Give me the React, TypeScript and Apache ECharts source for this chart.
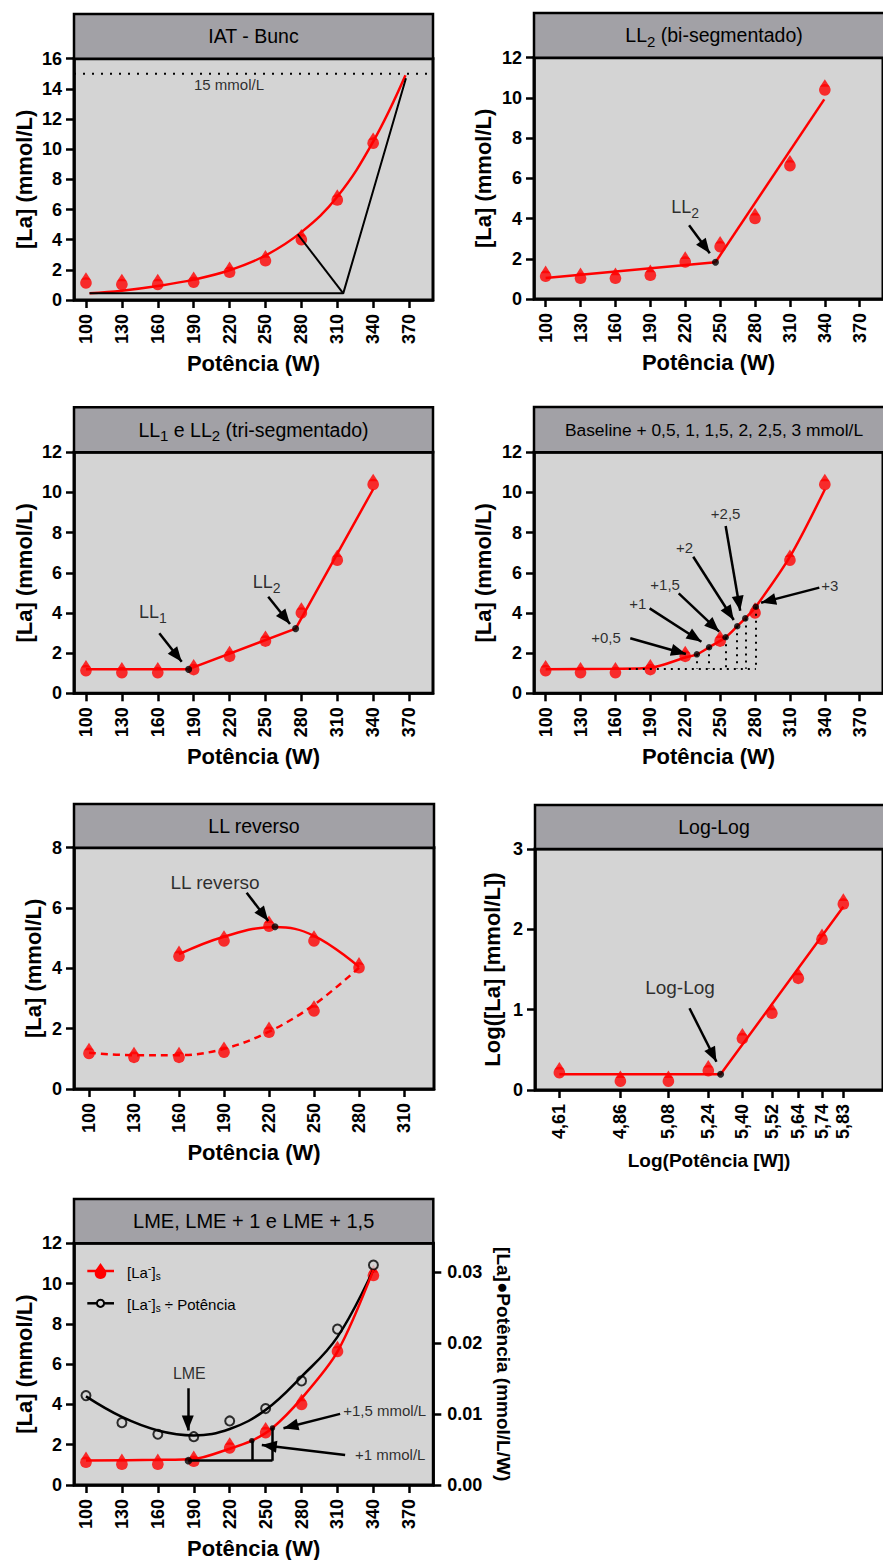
import React, { useEffect, useRef } from 'react';
import * as echarts from 'echarts';

const FONT = '"Liberation Sans", Arial, Helvetica, sans-serif';
const RED = '#ff0000';
const PLOT_BG = '#d4d4d4';
const HEAD_BG = '#a2a1a6';

// ---------- data ----------
const powerW = [100, 130, 160, 190, 220, 250, 280, 310, 340];
const lactate = [1.13, 1.03, 1.03, 1.18, 1.84, 2.6, 4.0, 6.63, 10.4];
const powerTicks = [100, 130, 160, 190, 220, 250, 280, 310, 340, 370];
const reverseTicks = [100, 130, 160, 190, 220, 250, 280, 310];

// IAT - Bunc
const iatCurve = [[103, 0.44], [130, 0.62], [160, 0.93], [190, 1.35], [220, 1.97], [250, 2.95], [280, 4.5], [310, 6.85], [340, 10.5], [367, 14.9]];
const iatTangent = [[277, 4.36], [315, 0.44]];
const iatBase = [[103, 0.44], [315, 0.44], [367.4, 14.7]];
const iatLevel = 15;

// LL2 bi-segmentado
const biSeg1 = [[100, 1.05], [246, 1.83]];
const biSeg2 = [[246, 1.83], [339.5, 9.93]];
const biPoint = [[246, 1.83]];

// LL1 e LL2 tri-segmentado
const triSeg = [[100, 1.2], [185.8, 1.2], [275.2, 3.22], [340, 10.16]];
const triPoints = [[185.8, 1.19], [275.2, 3.22]];

// Baseline + deltas
const baseCurve = [[100, 1.2], [160, 1.22], [190, 1.27], [220, 1.78], [230, 1.94], [240.5, 2.29], [254.7, 2.79], [264.7, 3.34], [271.6, 3.73], [280.7, 4.31], [310, 6.8], [340, 10.15]];
const baseLevel = 1.22;
const baseStartX = 171.5;
const deltaLabels = ['+0,5', '+1', '+1,5', '+2', '+2,5', '+3'];
const deltaX = [230, 240.5, 254.7, 264.7, 271.6, 280.7];
const deltaY = [1.94, 2.29, 2.79, 3.34, 3.73, 4.31];
const deltaLabelPos = [[151.9, 2.79], [179.2, 4.45], [202.75, 5.43], [219.4, 7.27], [254.75, 8.96], [344.2, 5.36]];
const deltaArrows = [
  [[172.75, 2.74], [220.6, 1.96]],
  [[189.4, 4.23], [233.9, 2.57]],
  [[214.4, 4.98], [249.2, 3.07]],
  [[226.9, 6.8], [261.7, 3.65]],
  [[254.75, 8.33], [267.25, 4.11]],
  [[335.25, 5.26], [285.25, 4.51]],
];

// LL reverso
const revUpX = [100, 130, 160, 190, 220, 250, 280];
const revUpY = [1.18, 1.05, 1.05, 1.22, 1.88, 2.59, 4.02];
const revDownX = [160, 190, 220, 250];
const revDownY = [4.4, 4.91, 5.4, 4.91];
const revUpCurve = [[100, 1.2], [130, 1.12], [160, 1.12], [190, 1.33], [220, 1.9], [250, 2.79], [280, 4.02]];
const revDownCurve = [[160, 4.47], [190, 5.05], [224, 5.37], [250, 5.08], [280, 4.05]];
const revPoint = [[224, 5.38]];

// Log-Log
const logTickValues = [4.605, 4.868, 5.075, 5.247, 5.394, 5.521, 5.635, 5.737, 5.829];
const logTickLabels = ['4,61', '4,86', '5,08', '5,24', '5,40', '5,52', '5,64', '5,74', '5,83'];
const logLactate = [0.216, 0.11, 0.11, 0.24, 0.64, 0.955, 1.39, 1.876, 2.315];
const logLine = [[4.605, 0.195], [5.3, 0.195], [5.829, 2.28]];
const logPoint = [[5.3, 0.195]];

// LME
const lmeRatio = [0.01261, 0.0088, 0.00716, 0.00682, 0.00904, 0.01078, 0.01469, 0.02199, 0.03103];
const lmeRatioCurve = [[100, 0.0125], [130, 0.0096], [160, 0.0077], [190, 0.007], [220, 0.0079], [250, 0.0106], [280, 0.0153], [310, 0.0209], [340, 0.0304]];
const lmeLacCurve = [[100, 1.22], [160, 1.25], [190, 1.29], [220, 1.8], [238.5, 2.2], [255.7, 2.83], [280, 4.3], [310, 6.62], [340, 10.68]];
const lmeBase = [185.5, 1.21];
const lmePlus = [[238.5, 2.2], [255.7, 2.83]];
const ratioTicks = [0, 0.01, 0.02, 0.03];

// ---------- layout ----------
const layout = [
  { left: 74, top: 58.7, width: 359, height: 241.3, head: 44.7 },
  { left: 534, top: 57.7, width: 360, height: 241.3, head: 44.7 },
  { left: 74, top: 452.3, width: 359, height: 241, head: 45 },
  { left: 534, top: 452.3, width: 360, height: 241, head: 45.3 },
  { left: 74, top: 847.7, width: 360, height: 241.3, head: 43.7 },
  { left: 535, top: 849, width: 358, height: 241, head: 44 },
  { left: 74, top: 1243.3, width: 359.3, height: 241.7, head: 44.3 },
];
const titles = [
  { text: 'IAT - Bunc', size: 19.5 },
  { text: 'LL{sub|2} (bi-segmentado)', size: 19.5 },
  { text: 'LL{sub|1} e LL{sub|2} (tri-segmentado)', size: 19.5 },
  { text: 'Baseline + 0,5, 1, 1,5, 2, 2,5, 3 mmol/L', size: 17.4 },
  { text: 'LL reverso', size: 19.5 },
  { text: 'Log-Log', size: 19.5 },
  { text: 'LME, LME + 1 e LME + 1,5', size: 20 },
];

const ARROW = 'path://M-15,0 L-15,0 M15,0 L15,0 M0,15 L6,30 L-6,30 Z';
const TICK_FONT = 18;
const DROP_R = 5.8;

const subRich = (size: number) => ({
  sub: { fontSize: size, fontFamily: FONT, color: '#000', padding: [12, 0, 0, 0] },
  sup: { fontSize: size, fontFamily: FONT, color: '#000', padding: [0, 0, 10, 0] },
});

function xAxis(gi: number, min: number, max: number, ticks: number[], name = 'Potência (W)', nameSize = 22, nameGap = 52, fmt?: (v: number) => string) {
  return {
    type: 'value', gridIndex: gi, min, max, name, nameLocation: 'middle', nameGap,
    nameTextStyle: { fontFamily: FONT, fontWeight: 'bold', fontSize: nameSize, color: '#000' },
    axisLine: { show: true, onZero: false, lineStyle: { color: '#000', width: 2.5 } },
    axisTick: { show: true, length: 8, lineStyle: { color: '#000', width: 2.5 }, customValues: ticks },
    axisLabel: { show: true, rotate: 90, margin: 14, fontFamily: FONT, fontWeight: 'bold', fontSize: TICK_FONT, color: '#000', customValues: ticks, formatter: fmt },
    splitLine: { show: false },
  };
}
function yAxis(gi: number, max: number, interval: number, name = '[La] (mmol/L)', nameGap = 39) {
  return {
    type: 'value', gridIndex: gi, min: 0, max, interval, name, nameLocation: 'middle', nameGap,
    nameTextStyle: { fontFamily: FONT, fontWeight: 'bold', fontSize: 22, color: '#000' },
    axisLine: { show: true, onZero: false, lineStyle: { color: '#000', width: 2.5 } },
    axisTick: { show: true, length: 8, lineStyle: { color: '#000', width: 2.5 } },
    axisLabel: { show: true, margin: 12, fontFamily: FONT, fontWeight: 'bold', fontSize: TICK_FONT, color: '#000' },
    splitLine: { show: false },
  };
}

// drop-shaped marker = filled circle + small triangle on top
function lacPoints(xi: number, yi: number, xs: number[], ys: number[], name = '[La]') {
  const data = xs.map((x, k) => [x, ys[k]]);
  return [
    {
      type: 'scatter', name, xAxisIndex: xi, yAxisIndex: yi, data,
      symbol: 'circle', symbolSize: DROP_R * 2, itemStyle: { color: RED }, z: 3, silent: true,
    },
    {
      type: 'scatter', name, xAxisIndex: xi, yAxisIndex: yi, data,
      symbol: 'triangle', symbolSize: [9.7, 7.6], symbolOffset: [0, -6.9], itemStyle: { color: RED }, z: 3, silent: true,
    },
  ];
}
function curve(xi: number, yi: number, data: number[][], color = RED, smooth: number | boolean = 0.35, type: any = 'solid', width = 2.5) {
  return {
    type: 'line', xAxisIndex: xi, yAxisIndex: yi, data, showSymbol: false, symbol: 'none', smooth,
    lineStyle: { color, width, type }, z: 4, silent: true,
  };
}
function dots(xi: number, yi: number, data: number[][], size = 7) {
  return { type: 'scatter', xAxisIndex: xi, yAxisIndex: yi, data, symbol: 'circle', symbolSize: size, itemStyle: { color: '#000' }, z: 7, silent: true };
}
function segs(xi: number, yi: number, list: number[][][], type: any = 'solid', width = 2.5, arrow = false) {
  return {
    type: 'lines', coordinateSystem: 'cartesian2d', xAxisIndex: xi, yAxisIndex: yi,
    symbol: arrow ? ['none', ARROW] : ['none', 'none'], symbolSize: 30,
    lineStyle: { color: '#000', width, type, opacity: 1, curveness: 0 },
    data: list.map((c) => ({ coords: c })), z: 6, silent: true,
  };
}
function texts(xi: number, yi: number, items: { x: number; y: number; t: string }[], size: number) {
  return {
    type: 'scatter', xAxisIndex: xi, yAxisIndex: yi, symbol: 'circle', symbolSize: 1,
    itemStyle: { color: 'rgba(0,0,0,0)' }, z: 8, silent: true,
    data: items.map((d) => ({ value: [d.x, d.y], label: { formatter: d.t } })),
    label: { show: true, position: 'inside', color: '#000', fontFamily: FONT, fontSize: size, rich: subRich(Math.round(size * 0.75)) },
  };
}

function buildOption() {
  const grid = layout.map((g) => ({ left: g.left, top: g.top, width: g.width, height: g.height, show: true, backgroundColor: PLOT_BG, borderColor: '#000', borderWidth: 3 }));

  const logFmt = (v: number) => {
    const i = logTickValues.findIndex((t) => Math.abs(t - v) < 1e-6);
    return i >= 0 ? logTickLabels[i] : '';
  };

  const xAxes = [
    xAxis(0, 90, 390, powerTicks),
    xAxis(1, 90, 390, powerTicks),
    xAxis(2, 90, 390, powerTicks),
    xAxis(3, 90, 390, powerTicks),
    xAxis(4, 90, 330, reverseTicks),
    xAxis(5, 4.5, 6.0, logTickValues, 'Log(Potência [W])', 19, 61, logFmt),
    xAxis(6, 90, 390, powerTicks),
  ];
  const right: any = yAxis(6, 0.0341, 0.01, '[La]●Potência (mmol/L/W)', 61);
  right.position = 'right';
  right.nameRotate = -90;
  right.nameTextStyle = { ...right.nameTextStyle, fontSize: 19 };
  right.axisLabel = { ...right.axisLabel, margin: 14, customValues: ratioTicks, formatter: (v: number) => v.toFixed(2) };
  right.axisTick = { ...right.axisTick, customValues: ratioTicks };
  const yAxes = [
    yAxis(0, 16, 2),
    yAxis(1, 12, 2, '[La] (mmol/L)', 40),
    yAxis(2, 12, 2),
    yAxis(3, 12, 2, '[La] (mmol/L)', 40),
    yAxis(4, 8, 2, '[La] (mmol/L)', 30),
    yAxis(5, 3, 1, 'Log([La] [mmol/L])', 32),
    yAxis(6, 12, 2),
    right,
  ];

  const series: any[] = [
    // P1
    ...lacPoints(0, 0, powerW, lactate),
    curve(0, 0, [[90, iatLevel], [390, iatLevel]], '#000', false, [2, 7], 2),
    curve(0, 0, iatCurve, RED, 0.4),
    curve(0, 0, iatBase, '#000', false, 'solid', 2),
    curve(0, 0, iatTangent, '#000', false, 'solid', 2),
    texts(0, 0, [{ x: 219.5, y: 14.26, t: '15 mmol/L' }], 15),
    // P2
    ...lacPoints(1, 1, powerW, lactate),
    curve(1, 1, biSeg1, RED, false),
    curve(1, 1, biSeg2, RED, false),
    dots(1, 1, biPoint),
    segs(1, 1, [[[223.3, 3.67], [241.1, 2.27]]], 'solid', 2.5, true),
    texts(1, 1, [{ x: 220, y: 4.59, t: 'LL{sub|2}' }], 18),
    // P3
    ...lacPoints(2, 2, powerW, lactate),
    curve(2, 2, triSeg, RED, false),
    dots(2, 2, triPoints),
    segs(2, 2, [[[161.3, 2.99], [180, 1.57]], [[252.3, 4.81], [270.5, 3.45]]], 'solid', 2.5, true),
    texts(2, 2, [{ x: 156, y: 4.03, t: 'LL{sub|1}' }, { x: 251, y: 5.53, t: 'LL{sub|2}' }], 18),
    // P4
    ...lacPoints(3, 3, powerW, lactate),
    curve(3, 3, baseCurve, RED, 0.3),
    segs(3, 3, [[[baseStartX, baseLevel], [deltaX[deltaX.length - 1], baseLevel]], ...deltaX.map((x, k) => [[x, deltaY[k]], [x, baseLevel]])], [2, 5], 2),
    dots(3, 3, deltaX.map((x, k) => [x, deltaY[k]]), 6.5),
    segs(3, 3, deltaArrows, 'solid', 2.5, true),
    texts(3, 3, deltaLabels.map((t, k) => ({ x: deltaLabelPos[k][0], y: deltaLabelPos[k][1], t })), 15),
    // P5
    ...lacPoints(4, 4, revUpX, revUpY),
    ...lacPoints(4, 4, revDownX, revDownY),
    curve(4, 4, revUpCurve, RED, 0.35, [7, 5]),
    curve(4, 4, revDownCurve, RED, 0.4),
    dots(4, 4, revPoint),
    segs(4, 4, [[[205.1, 6.51], [219.5, 5.57]]], 'solid', 2.5, true),
    texts(4, 4, [{ x: 184, y: 6.85, t: 'LL reverso' }], 19),
    // P6
    ...lacPoints(5, 5, logTickValues, logLactate),
    curve(5, 5, logLine, RED, false),
    dots(5, 5, logPoint),
    segs(5, 5, [[[5.166, 1.017], [5.282, 0.352]]], 'solid', 2.5, true),
    texts(5, 5, [{ x: 5.125, y: 1.27, t: 'Log-Log' }], 19),
    // P7
    ...lacPoints(6, 6, powerW, lactate, '[La-]s'),
    {
      type: 'scatter', name: '[La-]s ÷ Potência', xAxisIndex: 6, yAxisIndex: 7,
      data: powerW.map((x, k) => [x, lmeRatio[k]]), symbol: 'circle', symbolSize: 9,
      itemStyle: { color: PLOT_BG, borderColor: '#000', borderWidth: 2 }, z: 3, silent: true,
    },
    curve(6, 7, lmeRatioCurve, '#000', 0.4),
    curve(6, 6, lmeLacCurve, RED, 0.3),
    segs(6, 6, [
      [lmeBase, [lmePlus[1][0], lmeBase[1]]],
      [[lmePlus[0][0], lmeBase[1]], lmePlus[0]],
      [[lmePlus[1][0], lmeBase[1]], lmePlus[1]],
    ], 'solid', 2.5),
    dots(6, 6, [lmeBase], 7.5),
    dots(6, 6, lmePlus, 5.5),
    segs(6, 6, [
      [[185, 4.8], [185, 2.7]],
      [[312.2, 3.53], [264.9, 2.82]],
      [[316.4, 1.49], [246.8, 1.99]],
    ], 'solid', 2.5, true),
    texts(6, 6, [{ x: 186.3, y: 5.55, t: 'LME' }], 16),
    texts(6, 6, [{ x: 349.4, y: 3.69, t: '+1,5 mmol/L' }, { x: 354, y: 1.49, t: '+1 mmol/L' }], 15),
  ];

  const graphic: any[] = [];
  layout.forEach((g, i) => {
    graphic.push({
      type: 'rect', z: 1, silent: true,
      shape: { x: g.left, y: g.top - g.head, width: g.width, height: g.head },
      style: { fill: HEAD_BG, stroke: '#000', lineWidth: 2.5 },
    });
    graphic.push({
      type: 'text', z: 2, silent: true, x: g.left + g.width / 2, y: g.top - g.head / 2,
      style: {
        text: titles[i].text, fill: '#000', fontFamily: FONT, fontSize: titles[i].size,
        align: 'center', verticalAlign: 'middle', rich: subRich(15),
      },
    });
  });
  // legend of the LME panel
  const lg = layout[6];
  const lx0 = lg.left + 13.3, lx1 = lg.left + 40, lcx = lg.left + 26.5;
  const ly1 = 1271, ly2 = 1303.3;
  const legRich = { sub: { fontSize: 10, fontFamily: FONT, fill: '#000', padding: [9, 0, 0, 0] }, sup: { fontSize: 11, fontFamily: FONT, fill: '#000', padding: [0, 0, 9, 0] } };
  graphic.push(
    { type: 'line', z: 10, silent: true, shape: { x1: lx0, y1: ly1, x2: lx1, y2: ly1 }, style: { stroke: RED, lineWidth: 2.5 } },
    { type: 'polygon', z: 10, silent: true, shape: { points: [[lcx, ly1 - 8], [lcx + 4.84, ly1 - 0.9], [lcx - 4.84, ly1 - 0.9]] }, style: { fill: RED } },
    { type: 'circle', z: 10, silent: true, shape: { cx: lcx, cy: ly1 + 2.3, r: DROP_R }, style: { fill: RED } },
    {
      type: 'text', z: 10, silent: true, x: lg.left + 53, y: ly1 + 1,
      style: { text: '[La{sup|-}]{sub|s}', fill: '#000', fontFamily: FONT, fontSize: 15, verticalAlign: 'middle', rich: legRich },
    },
    { type: 'line', z: 10, silent: true, shape: { x1: lx0, y1: ly2, x2: lx1, y2: ly2 }, style: { stroke: '#000', lineWidth: 2.5 } },
    { type: 'circle', z: 11, silent: true, shape: { cx: lcx, cy: ly2, r: 3.6 }, style: { fill: PLOT_BG, stroke: '#000', lineWidth: 2 } },
    {
      type: 'text', z: 10, silent: true, x: lg.left + 53, y: ly2 + 1,
      style: { text: '[La{sup|-}]{sub|s} ÷ Potência', fill: '#000', fontFamily: FONT, fontSize: 15, verticalAlign: 'middle', rich: legRich },
    },
  );

  return {
    animation: false,
    backgroundColor: '#ffffff',
    textStyle: { fontFamily: FONT },
    grid, xAxis: xAxes, yAxis: yAxes, series, graphic,
  };
}

export default function App() {
  const ref = useRef<HTMLDivElement>(null);
  useEffect(() => {
    if (!ref.current) return;
    const chart = echarts.init(ref.current, undefined, { renderer: 'svg' });
    chart.setOption(buildOption() as any);
    return () => chart.dispose();
  }, []);
  return <div ref={ref} style={{ position: 'absolute', left: 0, top: 0, width: 883, height: 1560 }} />;
}
